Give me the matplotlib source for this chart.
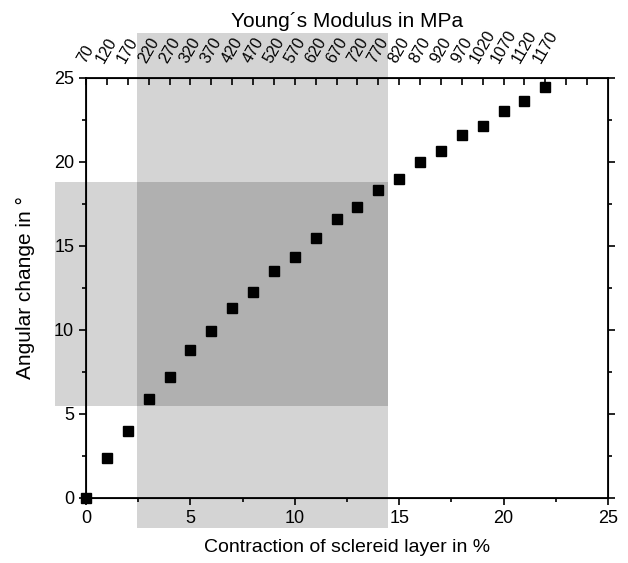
import numpy as np
import matplotlib.pyplot as plt
from matplotlib.patches import Rectangle

plt.rcParams['font.family'] = ['Liberation Sans', 'DejaVu Sans']

contraction = np.arange(0, 23)
angle = [0.0, 2.35, 4.0, 5.9, 7.2, 8.8, 9.95, 11.3, 12.25, 13.5, 14.35, 15.5,
         16.6, 17.3, 18.35, 19.0, 20.0, 20.65, 21.6, 22.15, 23.05, 23.6, 24.45]
modulus = [70, 120, 170, 220, 270, 320, 370, 420, 470, 520, 570, 620, 670,
           720, 770, 820, 870, 920, 970, 1020, 1070, 1120, 1170]

# shaded ranges
x_band = (2.45, 14.45)
y_band = (5.5, 18.8)

fig = plt.figure(figsize=(6.28, 5.63), dpi=100)
ax = fig.add_axes([0.137, 0.1155, 0.831, 0.746])

ax.add_patch(Rectangle((x_band[0], -1.8), x_band[1] - x_band[0], 29.5,
                       color='k', alpha=0.17, lw=0, clip_on=False, zorder=0))
ax.add_patch(Rectangle((-1.5, y_band[0]), x_band[1] + 1.5, y_band[1] - y_band[0],
                       color='k', alpha=0.17, lw=0, clip_on=False, zorder=0))

ax.plot(contraction, angle, 's', color='k', markersize=7, clip_on=False, zorder=3)

ax.set_xlim(0, 25)
ax.set_ylim(0, 25)
ax.set_xticks(np.arange(0, 26, 5))
ax.set_xticks(np.arange(0, 26, 2.5), minor=True)
ax.set_yticks(np.arange(0, 26, 5))
ax.set_yticks(np.arange(0, 26, 2.5), minor=True)
ax.tick_params(axis='both', which='both', labelsize=13, width=1.2)
ax.tick_params(which='major', length=5)
ax.tick_params(which='minor', length=3)
ax.tick_params(axis='y', which='both', right=True)
ax.set_xlabel('Contraction of sclereid layer in %', fontsize=14, labelpad=9)
ax.set_ylabel('Angular change in °', fontsize=15, labelpad=14)
for s in ax.spines.values():
    s.set_linewidth(1.3)

top = ax.twiny()
top.set_xlim(ax.get_xlim())
top.set_xticks(np.arange(0, 25, 1))
top.set_xticklabels([str(m) for m in modulus] + ['', ''], rotation=60, fontsize=11.5)
top.tick_params(axis='x', direction='in', length=5, width=1.2, pad=9)
top.set_xlabel('Young´s Modulus in MPa', fontsize=15, labelpad=0)

fig.savefig('out.png', dpi=100)
